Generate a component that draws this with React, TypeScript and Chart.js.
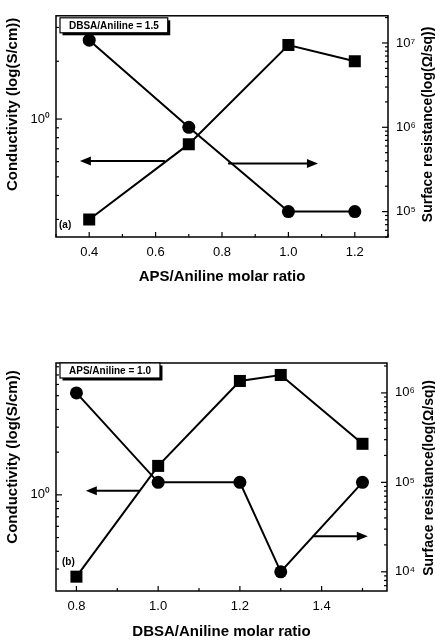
import React, { useEffect, useRef } from "react";
import { Chart, registerables } from "chart.js";

Chart.register(...registerables);

const FONT = '"Liberation Sans", Arial, Helvetica, sans-serif';

// ---------- Panel (a): DBSA/Aniline = 1.5 ----------
const apsRatio = [0.4, 0.7, 1.0, 1.2];
const apsConductivity = [0.3, 0.74, 2.43, 2.0];
const apsResistance = [1.08e7, 1.0e6, 1.0e5, 1.0e5];
const apsXTicks = [0.3, 0.4, 0.5, 0.6, 0.7, 0.8, 0.9, 1.0, 1.1, 1.2, 1.3];
const apsXTickLabels = ["", "0.4", "", "0.6", "", "0.8", "", "1.0", "", "1.2", ""];
const apsLeftMajor = [1];
const apsLeftMajorLabels = ["10\u2070"];
const apsRightMajor = [1e5, 1e6, 1e7];
const apsRightMajorLabels = ["10\u2075", "10\u2076", "10\u2077"];

// ---------- Panel (b): APS/Aniline = 1.0 ----------
const dbsaRatio = [0.8, 1.0, 1.2, 1.3, 1.5];
const dbsaConductivity = [0.265, 1.6, 6.35, 7.0, 2.29];
const dbsaResistance = [1.0e6, 1.0e5, 1.0e5, 1.0e4, 1.0e5];
const dbsaXTicks = [0.8, 0.9, 1.0, 1.1, 1.2, 1.3, 1.4, 1.5];
const dbsaXTickLabels = ["0.8", "", "1.0", "", "1.2", "", "1.4", ""];
const dbsaLeftMajor = [1];
const dbsaLeftMajorLabels = ["10\u2070"];
const dbsaRightMajor = [1e4, 1e5, 1e6];
const dbsaRightMajorLabels = ["10\u2074", "10\u2075", "10\u2076"];

function logTicks(min: number, max: number): number[] {
  const out: number[] = [];
  const e0 = Math.floor(Math.log10(min));
  const e1 = Math.ceil(Math.log10(max));
  for (let e = e0; e <= e1; e++) {
    for (let m = 1; m <= 9; m++) {
      const v = Number((m * Math.pow(10, e)).toPrecision(6));
      if (v >= min && v <= max) out.push(v);
    }
  }
  return out;
}

function isPow10(v: number) {
  const l = Math.log10(v);
  return Math.abs(l - Math.round(l)) < 1e-6;
}

function labelFor(v: number, majors: number[], labels: string[]) {
  for (let i = 0; i < majors.length; i++) {
    if (Math.abs(Math.log10(v) - Math.log10(majors[i])) < 1e-6) return labels[i];
  }
  return "";
}

const decorPlugin = {
  id: "decor",
  afterDraw(chart: any) {
    const o = chart.options.plugins.decor;
    if (!o) return;
    const { ctx, chartArea: a, scales } = chart;
    ctx.save();
    ctx.strokeStyle = "#000";
    ctx.fillStyle = "#000";

    // frame
    ctx.lineWidth = 1.5;
    ctx.strokeRect(a.left, a.top, a.right - a.left, a.bottom - a.top);

    // inward tick marks
    ctx.lineWidth = 1.2;
    const line = (x0: number, y0: number, x1: number, y1: number) => {
      ctx.beginPath();
      ctx.moveTo(x0, y0);
      ctx.lineTo(x1, y1);
      ctx.stroke();
    };
    scales.x.ticks.forEach((t: any, i: number) => {
      const px = scales.x.getPixelForValue(t.value);
      const len = o.xLabels[i] ? 5 : 3;
      line(px, a.bottom, px, a.bottom - len);
    });
    scales.y.ticks.forEach((t: any) => {
      const py = scales.y.getPixelForValue(t.value);
      const len = isPow10(t.value) ? 6 : 3;
      line(a.left, py, a.left + len, py);
    });
    scales.y1.ticks.forEach((t: any) => {
      const py = scales.y1.getPixelForValue(t.value);
      const len = isPow10(t.value) ? 6 : 3;
      line(a.right, py, a.right - len, py);
    });

    // arrows
    ctx.lineWidth = 2;
    o.arrows.forEach((ar: any) => {
      const sy = scales[ar.axis];
      const y = sy.getPixelForValue(ar.y);
      const x0 = scales.x.getPixelForValue(ar.from);
      const x1 = scales.x.getPixelForValue(ar.to);
      const dir = Math.sign(x1 - x0);
      line(x0, y, x1 - dir * 8, y);
      ctx.beginPath();
      ctx.moveTo(x1, y);
      ctx.lineTo(x1 - dir * 11, y - 4.5);
      ctx.lineTo(x1 - dir * 11, y + 4.5);
      ctx.closePath();
      ctx.fill();
    });

    // condition box with shadow
    ctx.font = `bold 10px ${FONT}`;
    const tw = ctx.measureText(o.boxText).width;
    const bx = a.left + 4;
    const by = a.top + o.boxDy;
    const bw = tw + 18;
    const bh = 15;
    ctx.fillStyle = "#000";
    ctx.fillRect(bx + 2.5, by + 2.5, bw, bh);
    ctx.fillStyle = "#fff";
    ctx.fillRect(bx, by, bw, bh);
    ctx.lineWidth = 1.2;
    ctx.strokeRect(bx, by, bw, bh);
    ctx.fillStyle = "#000";
    ctx.textAlign = "center";
    ctx.textBaseline = "middle";
    ctx.fillText(o.boxText, bx + bw / 2, by + bh / 2 + 0.5);

    // panel label
    ctx.textAlign = "left";
    ctx.fillText(o.panelLabel, a.left + o.panelDx, a.bottom - o.panelDy);

    // axis titles
    ctx.font = `bold 15px ${FONT}`;
    ctx.textAlign = "center";
    ctx.textBaseline = "middle";
    ctx.fillText(o.xTitle, (a.left + a.right) / 2, a.bottom + o.xTitleDy);

    ctx.save();
    ctx.translate(o.leftTitleX, (a.top + a.bottom) / 2 + o.leftTitleDy);
    ctx.rotate(-Math.PI / 2);
    ctx.fillText(o.leftTitle, 0, 0);
    ctx.restore();

    ctx.font = `bold 14px ${FONT}`;
    ctx.save();
    ctx.translate(o.rightTitleX, (a.top + a.bottom) / 2 + o.rightTitleDy);
    ctx.rotate(-Math.PI / 2);
    ctx.fillText(o.rightTitle, 0, 0);
    ctx.restore();

    ctx.restore();
  },
};

type PanelProps = {
  top: number;
  height: number;
  padTop: number;
  xAxisHeight: number;
  rightWidth: number;
  xValues: number[];
  conductivity: number[];
  resistance: number[];
  xMin: number;
  xMax: number;
  xTicks: number[];
  xTickLabels: string[];
  yMin: number;
  yMax: number;
  yMajor: number[];
  yMajorLabels: string[];
  y1Min: number;
  y1Max: number;
  y1Major: number[];
  y1MajorLabels: string[];
  decor: any;
};

function Panel(p: PanelProps) {
  const ref = useRef<HTMLCanvasElement | null>(null);
  useEffect(() => {
    if (!ref.current) return;
    const tickFont = { family: FONT, size: 13 };
    const yFont = { family: FONT, size: 13 };
    const chart = new Chart(ref.current, {
      type: "line",
      data: {
        datasets: [
          {
            label: "Conductivity",
            data: p.xValues.map((x, i) => ({ x, y: p.conductivity[i] })),
            yAxisID: "y",
            borderColor: "#000",
            backgroundColor: "#000",
            borderWidth: 2,
            pointStyle: "rect",
            pointRadius: 8.5,
            pointBorderWidth: 0,
            tension: 0,
          },
          {
            label: "Surface resistance",
            data: p.xValues.map((x, i) => ({ x, y: p.resistance[i] })),
            yAxisID: "y1",
            borderColor: "#000",
            backgroundColor: "#000",
            borderWidth: 2,
            pointStyle: "circle",
            pointRadius: 6.5,
            pointBorderWidth: 0,
            tension: 0,
          },
        ],
      },
      options: {
        responsive: false,
        animation: false,
        layout: { padding: { top: p.padTop, left: 0, right: 0, bottom: 0 } },
        plugins: {
          legend: { display: false },
          tooltip: { enabled: false },
          decor: { ...p.decor, xLabels: p.xTickLabels },
        } as any,
        scales: {
          x: {
            type: "linear",
            min: p.xMin,
            max: p.xMax,
            grid: { display: false, drawTicks: false },
            border: { display: false },
            afterBuildTicks: (s: any) => {
              s.ticks = p.xTicks.map((v) => ({ value: v }));
            },
            afterFit: (s: any) => {
              s.height = p.xAxisHeight;
            },
            ticks: {
              autoSkip: false,
              maxRotation: 0,
              padding: 8,
              color: "#000",
              font: tickFont,
              callback: (_v: any, i: number) => p.xTickLabels[i],
            },
          },
          y: {
            type: "logarithmic",
            position: "left",
            min: p.yMin,
            max: p.yMax,
            grid: { display: false, drawTicks: false },
            border: { display: false },
            afterBuildTicks: (s: any) => {
              s.ticks = logTicks(p.yMin, p.yMax).map((v) => ({ value: v }));
            },
            afterFit: (s: any) => {
              s.width = 56;
            },
            ticks: {
              autoSkip: false,
              padding: 6,
              color: "#000",
              font: yFont,
              callback: (v: any) => labelFor(Number(v), p.yMajor, p.yMajorLabels),
            },
          },
          y1: {
            type: "logarithmic",
            position: "right",
            min: p.y1Min,
            max: p.y1Max,
            grid: { display: false, drawTicks: false },
            border: { display: false },
            afterBuildTicks: (s: any) => {
              s.ticks = logTicks(p.y1Min, p.y1Max).map((v) => ({ value: v }));
            },
            afterFit: (s: any) => {
              s.width = p.rightWidth;
            },
            ticks: {
              autoSkip: false,
              padding: 8,
              color: "#000",
              font: yFont,
              callback: (v: any) => labelFor(Number(v), p.y1Major, p.y1MajorLabels),
            },
          },
        },
      } as any,
      plugins: [decorPlugin],
    });
    return () => chart.destroy();
  }, []);
  return (
    <canvas
      ref={ref}
      width={435}
      height={p.height}
      style={{ position: "absolute", left: 0, top: p.top, width: 435, height: p.height }}
    />
  );
}

export default function App() {
  return (
    <div
      style={{
        position: "absolute",
        left: 0,
        top: 0,
        width: 435,
        height: 641,
        background: "#fff",
        overflow: "hidden",
      }}
    >
      <Panel
        top={0}
        height={300}
        padTop={10}
        xAxisHeight={63}
        rightWidth={47}
        xValues={apsRatio}
        conductivity={apsConductivity}
        resistance={apsResistance}
        xMin={0.3}
        xMax={1.3}
        xTicks={apsXTicks}
        xTickLabels={apsXTickLabels}
        yMin={0.243}
        yMax={3.45}
        yMajor={apsLeftMajor}
        yMajorLabels={apsLeftMajorLabels}
        y1Min={5.0e4}
        y1Max={2.1e7}
        y1Major={apsRightMajor}
        y1MajorLabels={apsRightMajorLabels}
        decor={{
          boxText: "DBSA/Aniline = 1.5",
          boxDy: 2,
          panelLabel: "(a)",
          panelDx: 3,
          panelDy: 12,
          xTitle: "APS/Aniline molar ratio",
          xTitleDy: 40,
          leftTitle: "Conductivity (log(S/cm))",
          leftTitleX: 13,
          leftTitleDy: -22,
          rightTitle: "Surface resistance(log(\u03A9/sq))",
          rightTitleX: 428,
          rightTitleDy: -2,
          arrows: [
            { axis: "y", from: 0.628, to: 0.372, y: 0.605 },
            { axis: "y1", from: 0.818, to: 1.089, y: 3.73e5 },
          ],
        }}
      />
      <Panel
        top={300}
        height={341}
        padTop={63}
        xAxisHeight={50}
        rightWidth={48}
        xValues={dbsaRatio}
        conductivity={dbsaConductivity}
        resistance={dbsaResistance}
        xMin={0.75}
        xMax={1.56}
        xTicks={dbsaXTicks}
        xTickLabels={dbsaXTickLabels}
        yMin={0.21}
        yMax={8.5}
        yMajor={dbsaLeftMajor}
        yMajorLabels={dbsaLeftMajorLabels}
        y1Min={6.1e3}
        y1Max={2.16e6}
        y1Major={dbsaRightMajor}
        y1MajorLabels={dbsaRightMajorLabels}
        decor={{
          boxText: "APS/Aniline = 1.0",
          boxDy: 0,
          panelLabel: "(b)",
          panelDx: 6,
          panelDy: 29,
          xTitle: "DBSA/Aniline molar ratio",
          xTitleDy: 41,
          leftTitle: "Conductivity (log(S/cm))",
          leftTitleX: 13,
          leftTitleDy: -20,
          rightTitle: "Surface resistance(log(\u03A9/sq))",
          rightTitleX: 429,
          rightTitleDy: 1,
          arrows: [
            { axis: "y", from: 0.955, to: 0.823, y: 1.07 },
            { axis: "y1", from: 1.378, to: 1.513, y: 2.5e4 },
          ],
        }}
      />
    </div>
  );
}
